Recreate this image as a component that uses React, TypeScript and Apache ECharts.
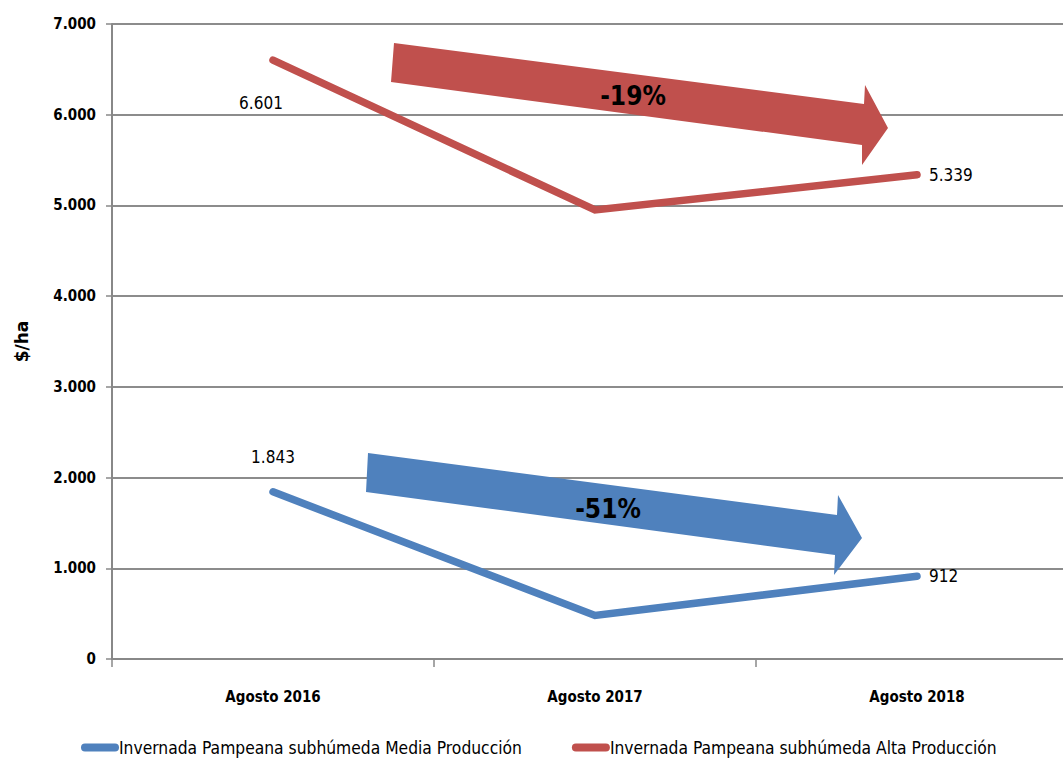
import React, { useEffect, useRef } from "react";
import * as echarts from "echarts";

const categories = ["Agosto 2016", "Agosto 2017", "Agosto 2018"];
const mediaValues = [1843, 480, 912];
const altaValues = [6601, 4950, 5339];
const seriesNames = [
  "Invernada Pampeana subhúmeda Media Producción",
  "Invernada Pampeana subhúmeda Alta Producción",
];
const yTicks = { min: 0, max: 7000, interval: 1000 };
const changeLabels = ["-19%", "-51%"];

const FONT = '"DejaVu Sans Condensed", "Liberation Sans Narrow", "Noto Sans", sans-serif';
const RED = "#C0504D";
const BLUE = "#4F81BD";

const fmt = (v: number) => String(Math.round(v)).replace(/\B(?=(\d{3})+(?!\d))/g, ".");

export default function App() {
  const ref = useRef<HTMLDivElement>(null);
  useEffect(() => {
    if (!ref.current) return;
    const chart = echarts.init(ref.current, null, { renderer: "svg" });
    const labelStyle = { color: "#000", fontFamily: FONT, fontSize: 17, fontWeight: "normal" as const };
    const mediaData = mediaValues.map((v, i) => ({
      value: v,
      label: {
        show: i !== 1,
        position: i === 0 ? "top" : "right",
        distance: i === 0 ? 26 : 12,
        ...labelStyle,
        formatter: (p: any) => fmt(p.value),
      },
    }));
    const altaData = altaValues.map((v, i) => ({
      value: v,
      label: {
        show: i !== 1,
        position: i === 0 ? "bottom" : "right",
        distance: i === 0 ? 34 : 12,
        offset: i === 0 ? [-12, 0] : [0, 0],
        ...labelStyle,
        formatter: (p: any) => fmt(p.value),
      },
    }));
    chart.setOption({
      animation: false,
      backgroundColor: "#fff",
      grid: { left: 112, top: 24, width: 966, height: 635, containLabel: false },
      legend: {
        bottom: 2,
        left: 76,
        itemWidth: 38,
        itemHeight: 9,
        itemGap: 50,
        icon: "path://M4,0 H34 A4,4 0 0 1 34,8 H4 A4,4 0 0 1 4,0 Z",
        textStyle: { color: "#000", fontFamily: FONT, fontSize: 17.3, padding: [0, 0, 0, -5] },
        data: seriesNames,
      },
      xAxis: {
        type: "category",
        data: categories,
        boundaryGap: true,
        axisLine: { lineStyle: { color: "#888", width: 2 } },
        axisTick: { show: true, length: 8, lineStyle: { color: "#888", width: 1.5 } },
        axisLabel: { color: "#000", fontFamily: FONT, fontSize: 15, fontWeight: "bold", margin: 30 },
      },
      yAxis: {
        type: "value",
        min: yTicks.min,
        max: yTicks.max,
        interval: yTicks.interval,
        name: "$/ha",
        nameLocation: "middle",
        nameRotate: 90,
        nameGap: 82,
        nameTextStyle: { color: "#000", fontFamily: "DejaVu Sans", fontSize: 17, fontWeight: "bold" },
        axisLine: { show: true, lineStyle: { color: "#888", width: 2 } },
        axisTick: { show: true, length: 6, lineStyle: { color: "#888", width: 1.5 } },
        axisLabel: {
          color: "#000",
          fontFamily: FONT,
          fontSize: 15,
          fontWeight: "bold",
          margin: 16,
          formatter: (v: number) => fmt(v),
        },
        splitLine: { show: true, lineStyle: { color: "#8c8c8c", width: 2 } },
      },
      series: [
        {
          name: seriesNames[0],
          type: "line",
          data: mediaData,
          symbol: "circle",
          symbolSize: 0,
          showSymbol: true,
          color: BLUE,
          lineStyle: { color: BLUE, width: 7.5, cap: "round", join: "miter" },
          z: 3,
        },
        {
          name: seriesNames[1],
          type: "line",
          data: altaData,
          symbol: "circle",
          symbolSize: 0,
          showSymbol: true,
          color: RED,
          lineStyle: { color: RED, width: 7.5, cap: "round", join: "miter" },
          z: 3,
        },
      ],
      graphic: [
        {
          type: "polygon",
          z: 10,
          shape: {
            points: [
              [394, 43], [864, 104], [865, 85], [888, 128], [862, 165], [862, 145], [391, 82],
            ],
          },
          style: { fill: RED },
        },
        {
          type: "text",
          z: 11,
          x: 633,
          y: 96,
          style: {
            text: changeLabels[0],
            fill: "#000",
            font: `bold 26px ${FONT}`,
            align: "center",
            verticalAlign: "middle",
          },
        },
        {
          type: "polygon",
          z: 10,
          shape: {
            points: [
              [368, 453], [837, 515], [838, 495], [862, 538], [834, 575], [835, 555], [366, 492],
            ],
          },
          style: { fill: BLUE },
        },
        {
          type: "text",
          z: 11,
          x: 608,
          y: 509,
          style: {
            text: changeLabels[1],
            fill: "#000",
            font: `bold 26px ${FONT}`,
            align: "center",
            verticalAlign: "middle",
          },
        },
      ],
    });
    return () => chart.dispose();
  }, []);
  return (
    <div style={{ width: 1063, height: 763, position: "absolute", left: 0, top: 0, overflow: "hidden", background: "#fff" }}>
      <div ref={ref} style={{ width: 1082, height: 763, position: "absolute", left: 0, top: 0 }} />
    </div>
  );
}
